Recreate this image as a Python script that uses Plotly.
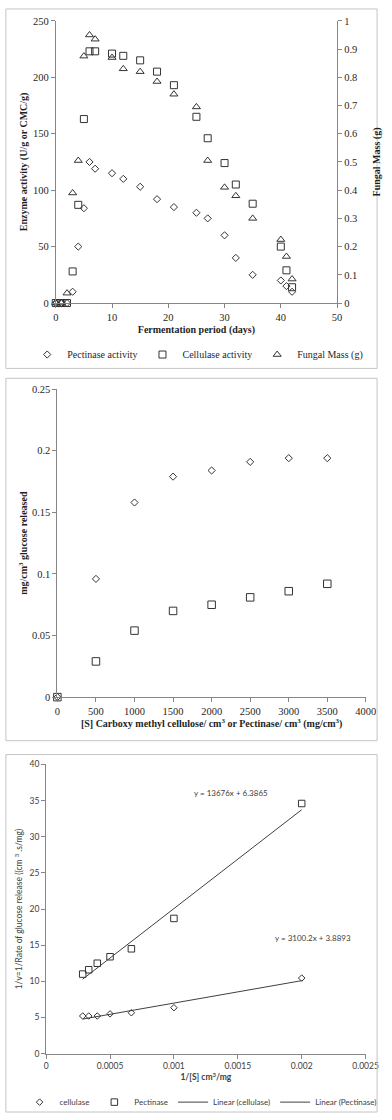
import plotly.graph_objects as go

W, H = 392, 1120

# ---------------- Panel 1: enzyme activity vs fermentation period ----------------
days = [0, 1, 2, 3, 4, 5, 6, 7, 10, 12, 15, 18, 21, 25, 27, 30, 32, 35, 40, 41, 42]
pectinase_activity = [0, 0, 0, 10, 50, 84, 125, 119, 115, 110, 103, 92, 85, 80, 75, 60, 40, 25, 20, 15, 10]
cellulase_activity = [0, 0, 0, 28, 87, 163, 223, 223, 221, 219, 215, 205, 193, 165, 146, 124, 105, 88, 50, 29, 14]
fungal_mass = [0, 0, 0.035, 0.39, 0.505, 0.875, 0.95, 0.935, 0.87, 0.83, 0.82, 0.785, 0.74, 0.695,
               0.505, 0.41, 0.38, 0.30, 0.225, 0.165, 0.085]

# ---------------- Panel 2: glucose released vs substrate ----------------
substrate_conc = [0, 500, 1000, 1500, 2000, 2500, 3000, 3500]
glucose_cellulase = [0, 0.096, 0.158, 0.179, 0.184, 0.191, 0.194, 0.194]
glucose_pectinase = [0, 0.029, 0.054, 0.070, 0.075, 0.081, 0.086, 0.092]

# ---------------- Panel 3: Lineweaver-Burk ----------------
inv_s = [0.000286, 0.000333, 0.0004, 0.0005, 0.000667, 0.001, 0.002]
inv_v_cellulase = [5.2, 5.2, 5.2, 5.5, 5.65, 6.35, 10.45]
inv_v_pectinase = [11.0, 11.6, 12.5, 13.4, 14.5, 18.7, 34.6]
trend_names = ["Linear (cellulase)", "Linear (Pectinase)"]
trend_slope = [3100.2, 13676]
trend_intercept = [3.8893, 6.3865]
trend_labels = ["y = 3100.2x + 3.8893", "y = 13676x + 6.3865"]


def fx(p):
    return p / W


def fy(p):
    return 1 - p / H


SERIF = "Liberation Serif"
SANS = "Lato"
INK = "#1f1f1f"
INK3 = "#404040"
AXIS = "#868686"
MK = "#333333"
BORDER = "#c4c4c4"

fig = go.Figure()

# Panel 1 traces
fig.add_trace(go.Scatter(x=days, y=pectinase_activity, mode="markers", name="Pectinase activity",
                         marker=dict(symbol="diamond-open", size=5.5, color=MK, line=dict(width=1)),
                         xaxis="x", yaxis="y", legend="legend", cliponaxis=False))
fig.add_trace(go.Scatter(x=days, y=cellulase_activity, mode="markers", name="Cellulase activity",
                         marker=dict(symbol="square-open", size=7, color=MK, line=dict(width=1)),
                         xaxis="x", yaxis="y", legend="legend", cliponaxis=False))
fig.add_trace(go.Scatter(x=days, y=fungal_mass, mode="markers", name="Fungal Mass (g)",
                         marker=dict(symbol="triangle-up-open", size=7, color=MK, line=dict(width=1)),
                         xaxis="x", yaxis="y2", legend="legend", cliponaxis=False))

# Panel 2 traces
fig.add_trace(go.Scatter(x=substrate_conc, y=glucose_cellulase, mode="markers", name="cellulase",
                         marker=dict(symbol="diamond-open", size=5.5, color=MK, line=dict(width=1)),
                         xaxis="x2", yaxis="y3", showlegend=False, cliponaxis=False))
fig.add_trace(go.Scatter(x=substrate_conc, y=glucose_pectinase, mode="markers", name="Pectinase",
                         marker=dict(symbol="square-open", size=7.5, color=MK, line=dict(width=1)),
                         xaxis="x2", yaxis="y3", showlegend=False, cliponaxis=False))

# Panel 3 traces
fig.add_trace(go.Scatter(x=inv_s, y=inv_v_cellulase, mode="markers", name="cellulase",
                         marker=dict(symbol="diamond-open", size=5, color=MK, line=dict(width=1)),
                         xaxis="x3", yaxis="y4", legend="legend2", cliponaxis=False))
fig.add_trace(go.Scatter(x=inv_s, y=inv_v_pectinase, mode="markers", name="Pectinase",
                         marker=dict(symbol="square-open", size=6.5, color=MK, line=dict(width=1)),
                         xaxis="x3", yaxis="y4", legend="legend2", cliponaxis=False))
x_fit = [min(inv_s), max(inv_s)]
for name, m, b in zip(trend_names, trend_slope, trend_intercept):
    fig.add_trace(go.Scatter(x=x_fit, y=[m * xv + b for xv in x_fit], mode="lines", name=name,
                             line=dict(color=INK3, width=1), xaxis="x3", yaxis="y4", legend="legend2"))

axis_common = dict(showline=True, linecolor=AXIS, linewidth=1, ticks="outside", ticklen=4,
                   tickcolor=AXIS, tickwidth=1, showgrid=False, zeroline=False)
serif_tick = dict(family=SERIF, size=10.5, color=INK)
serif_title = dict(family=SERIF, size=10, color=INK)
sans_tick = dict(family=SANS, size=8.5, color=INK3)
sans_title = dict(family=SANS, size=8.5, color=INK3)

fig.update_layout(
    width=W, height=H,
    margin=dict(l=0, r=0, t=0, b=0),
    paper_bgcolor="white", plot_bgcolor="white",
    # Panel 1
    xaxis=dict(axis_common, domain=[fx(55), fx(348.3)], range=[0, 50], dtick=10, anchor="y",
               tickfont=serif_tick,
               title=dict(text="<b>Fermentation period (days)</b>", font=serif_title, standoff=4)),
    yaxis=dict(axis_common, domain=[fy(301), fy(16)], range=[0, 250], dtick=50, anchor="x",
               tickfont=serif_tick,
               title=dict(text="<b>Enzyme activity (U/g or CMC/g)</b>", font=serif_title, standoff=3)),
    yaxis2=dict(axis_common, overlaying="y", side="right", anchor="x", range=[0, 1], dtick=0.1,
                tickfont=serif_tick,
                title=dict(text="<b>Fungal Mass (g)</b>", font=serif_title, standoff=15)),
    # Panel 2
    xaxis2=dict(axis_common, domain=[fx(56.7), fx(378.3)], range=[0, 4000], dtick=500, anchor="y3",
                tickfont=serif_tick,
                title=dict(text="<b>[S] Carboxy methyl cellulose/ cm<sup>3</sup> or Pectinase/ cm<sup>3</sup> (mg/cm<sup>3</sup>)</b>",
                           font=serif_title, standoff=4)),
    yaxis3=dict(axis_common, domain=[fy(699), fy(388)], range=[0, 0.25], dtick=0.05, anchor="x2",
                tickfont=serif_tick,
                title=dict(text="<b>mg/cm<sup>3</sup> glucose released</b>", font=serif_title, standoff=2)),
    # Panel 3
    xaxis3=dict(axis_common, domain=[fx(45), fx(378)], range=[0, 0.0025], dtick=0.0005, anchor="y4",
                exponentformat="none", tickfont=sans_tick,
                title=dict(text="<b>1/[S] cm<sup>3</sup>/mg</b>", font=sans_title, standoff=4)),
    yaxis4=dict(axis_common, domain=[fy(1059), fy(767)], range=[0, 40], dtick=5, anchor="x3",
                tickfont=sans_tick,
                title=dict(text="1/v=1/Rate of glucose release ((cm <sup>3</sup> .s/mg)", font=sans_title,
                           standoff=5)),
    legend=dict(orientation="h", x=fx(203), xanchor="center", y=fy(353), yanchor="middle",
                font=dict(family=SERIF, size=10, color=INK), bgcolor="rgba(0,0,0,0)", itemwidth=30),
    legend2=dict(orientation="h", x=fx(206), xanchor="center", y=fy(1108), yanchor="middle",
                 font=dict(family=SANS, size=8, color=INK3), bgcolor="rgba(0,0,0,0)", itemwidth=30),
    shapes=[
        dict(type="rect", xref="paper", yref="paper", x0=fx(3), x1=fx(390), y0=fy(367), y1=fy(4),
             line=dict(color=BORDER, width=1)),
        dict(type="rect", xref="paper", yref="paper", x0=fx(3), x1=fx(390), y0=fy(743), y1=fy(377),
             line=dict(color=BORDER, width=1)),
        dict(type="rect", xref="paper", yref="paper", x0=fx(3), x1=fx(390), y0=fy(1118), y1=fy(757),
             line=dict(color=BORDER, width=1)),
    ],
)

# Trendline equations (panel 3)
eq_pos_x = [0.002087, 0.001449]
eq_pos_y = [16.0, 36.0]
for txt, ex, ey in zip(trend_labels, eq_pos_x, eq_pos_y):
    fig.add_annotation(x=ex, y=ey, xref="x3", yref="y4", text=txt, showarrow=False,
                       font=dict(family=SANS, size=8, color=INK3))

fig.write_html(
    "out.html",
    config={"displayModeBar": False},
    post_script="document.body.style.margin='0';document.body.style.overflow='hidden';",
)
